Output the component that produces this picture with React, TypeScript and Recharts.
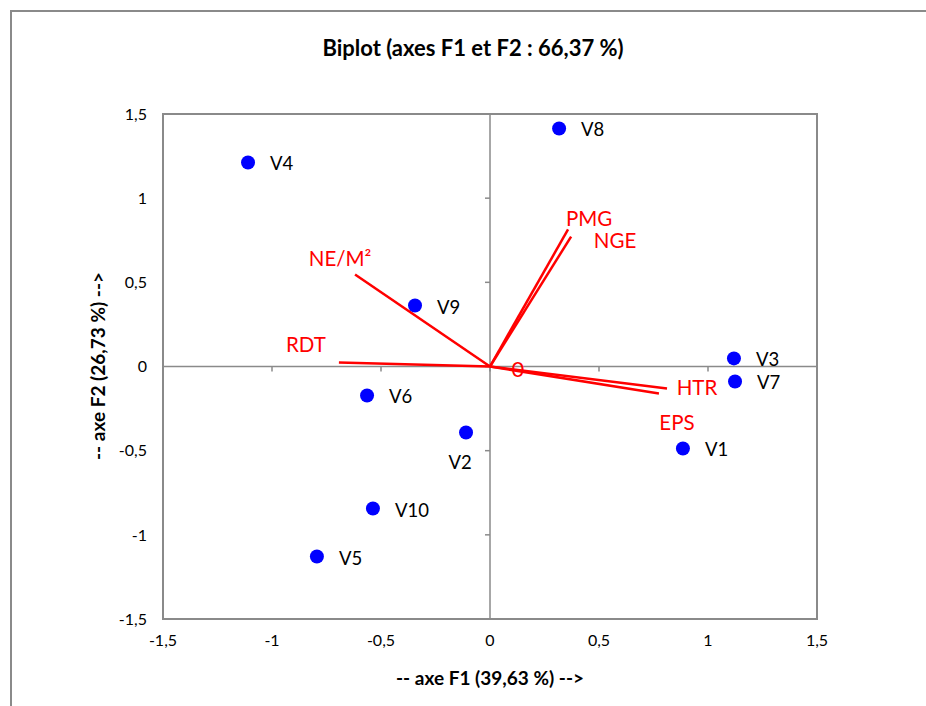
import { ReferenceArea, ReferenceLine, Scatter, ScatterChart, XAxis, YAxis } from "recharts";

// axis ticks shared by F1 and F2
const TICKS = [-1.5, -1, -0.5, 0, 0.5, 1, 1.5];

// observations (factor scores)
const obsNames = ["V1", "V2", "V3", "V4", "V5", "V6", "V7", "V8", "V9", "V10"];
const obsF1 = [0.885, -0.11, 1.119, -1.11, -0.794, -0.564, 1.124, 0.317, -0.344, -0.537];
const obsF2 = [-0.487, -0.392, 0.048, 1.212, -1.129, -0.172, -0.089, 1.414, 0.362, -0.844];

// variables (loadings)
const varNames = ["NE/M²", "RDT", "PMG", "NGE", "HTR", "EPS", "0"];
const varF1 = [-0.619, -0.693, 0.358, 0.372, 0.812, 0.775, 0];
const varF2 = [0.547, 0.024, 0.814, 0.772, -0.131, -0.16, 0];

const obs = obsNames.map((name, i) => ({ name, x: obsF1[i], y: obsF2[i] }));
const vars = varNames.map((name, i) => ({ name, x: varF1[i], y: varF2[i] }));

// label placement relative to the marker, in px
const obsLabelShift: Record<string, [number, number, string]> = {
  V2: [-6, 30, "middle"],
};
const varLabelShift: Record<string, [number, number]> = {
  "NE/M²": [-15, -16],
  RDT: [-33, -18],
  PMG: [21, -11],
  NGE: [44, 3],
  HTR: [30, -2],
  EPS: [18, 29],
  "0": [28, 2],
};

const GREY = "#8a8a8a";
const RED = "#ff0000";
const BLUE = "#0000ff";
const FONT = "Lato, 'Open Sans', sans-serif";

const fmt = (v: number) => String(v).replace(".", ",");

function ObsShape(props: any) {
  const { cx, cy, payload } = props;
  const s = obsLabelShift[payload.name] || [22, 1, "start"];
  return (
    <g>
      <circle cx={cx} cy={cy} r={7} fill={BLUE} />
      <text x={cx + s[0]} y={cy + s[1]} textAnchor={s[2] as any} dominantBaseline="central"
        fontSize={18.5} fontFamily={FONT} fill="#000">{payload.name}</text>
    </g>
  );
}

function VarLabel(props: any) {
  const { cx, cy, payload } = props;
  const s = varLabelShift[payload.name] || [0, 0];
  return (
    <text x={cx + s[0]} y={cy + s[1]} textAnchor="middle" dominantBaseline="central"
      fontSize={payload.name === "0" ? 22 : 20.5} fontFamily={FONT} fill={RED}>{payload.name}</text>
  );
}

export default function App() {
  return (
    <div style={{ position: "fixed", left: 0, top: 0, width: 926, height: 706, overflow: "hidden", background: "#fff" }}>
      <div style={{ position: "absolute", left: 10, top: 10, width: 1000, height: 800, border: `2px solid ${GREY}` }} />
      <ScatterChart width={918} height={698} margin={{ top: 106, right: 109, bottom: 57, left: 95 }}
        style={{ position: "absolute", left: 8, top: 8 }}>
        <XAxis type="number" dataKey="x" domain={[-1.5, 1.5]} ticks={TICKS} tickFormatter={fmt}
          axisLine={false} tickLine={false} height={30} tickMargin={10}
          tick={{ fontSize: 16, fill: "#000", fontFamily: FONT }} />
        <YAxis type="number" dataKey="y" domain={[-1.5, 1.5]} ticks={TICKS} tickFormatter={fmt}
          axisLine={false} tickLine={false} width={60} tickMargin={10}
          tick={{ fontSize: 16, fill: "#000", fontFamily: FONT }} />
        <ReferenceArea x1={-1.5} x2={1.5} y1={-1.5} y2={1.5} fill="none" stroke={GREY} strokeWidth={2} />
        <ReferenceLine x={0} stroke={GREY} strokeWidth={1.5} />
        <ReferenceLine y={0} stroke={GREY} strokeWidth={1.5} />
        {TICKS.map((t) => (
          <ReferenceLine key={"tx" + t} segment={[{ x: t, y: 0 }, { x: t, y: -0.03 }]} stroke={GREY} strokeWidth={1.5} />
        ))}
        {TICKS.map((t) => (
          <ReferenceLine key={"ty" + t} segment={[{ x: 0, y: t }, { x: -0.023, y: t }]} stroke={GREY} strokeWidth={1.5} />
        ))}
        {vars.map((v) => (
          <ReferenceLine key={v.name} segment={[{ x: 0, y: 0 }, { x: v.x, y: v.y }]} stroke={RED} strokeWidth={2.5} />
        ))}
        <Scatter data={vars} shape={VarLabel} isAnimationActive={false} />
        <Scatter data={obs} shape={ObsShape} isAnimationActive={false} />
        <text x={465} y={39} textAnchor="middle" dominantBaseline="central" fontSize={22}
          fontWeight="bold" fontFamily={FONT} fill="#000">Biplot (axes F1 et F2 : 66,37 %)</text>
        <text x={482} y={669} textAnchor="middle" dominantBaseline="central" fontSize={19}
          fontWeight="bold" fontFamily={FONT} fill="#000">-- axe F1 (39,63 %) --&gt;</text>
        <text x={89} y={358} textAnchor="middle" dominantBaseline="central" fontSize={19}
          fontWeight="bold" fontFamily={FONT} fill="#000" transform="rotate(-90 89 358)">-- axe F2 (26,73 %) --&gt;</text>
      </ScatterChart>
    </div>
  );
}
